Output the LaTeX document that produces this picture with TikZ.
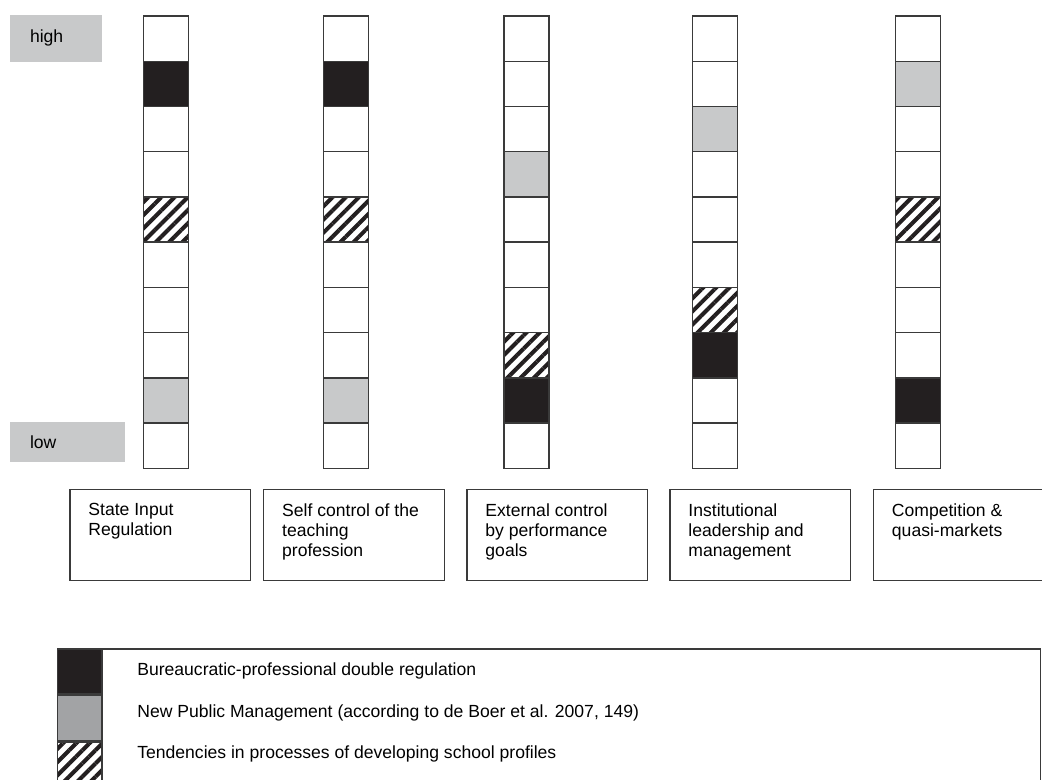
\documentclass[tikz,border=0pt]{standalone}
\usepackage{fontspec}
\setmainfont{Liberation Sans}
\usetikzlibrary{patterns.meta, positioning}
\definecolor{cellblack}{HTML}{231F20}
\definecolor{cellgray}{HTML}{C8C9CA}
\definecolor{keygray}{HTML}{A2A3A5}
\definecolor{edgegray}{HTML}{3A3A3A}
\begin{document}
\begin{tikzpicture}[x=0.02cm, y=-0.02cm, font=\fontsize{10}{11.4}\selectfont,
  cell/.style={rectangle, draw=edgegray, line width=0.8pt, minimum width=0.9cm, minimum height=0.904cm, inner sep=0},
  blank/.style={fill=white},
  dbl/.style={fill=cellblack},
  npm/.style={fill=cellgray},
  hatch/.style={pattern={Lines[angle=45, distance=5.3pt, line width=2.3pt]}, pattern color=cellblack},
  keygray/.style={fill=keygray},
  level/.style={rectangle, fill=cellgray, inner xsep=0.4cm, inner ysep=0, align=left},
  model/.style={rectangle, draw=edgegray, line width=0.8pt, minimum width=3.62cm, minimum height=1.82cm},
  modeltext/.style={anchor=north west, inner sep=0, align=left}]
\useasboundingbox (0,0) rectangle (1042,780);
\clip (0,0) rectangle (1042,780);

% high / low
\node[level, minimum height=0.946cm, text width=1.04cm] (High) at (56,38.3) {high};
\node[level, minimum height=0.806cm, text width=1.5cm] (Low) at (67.5,441.9) {low};

% columns of cells
\foreach \col/\cx/\b/\g/\h in {1/165.8/2/9/5, 2/346/2/9/5, 3/526.3/9/4/8, 4/715/8/3/7, 5/918/9/2/5} {
  \foreach \r in {1,...,10} {
    \ifnum\r=\b \def\kind{dbl}\else\ifnum\r=\g \def\kind{npm}\else\ifnum\r=\h \def\kind{hatch}\else\def\kind{blank}\fi\fi\fi
    \node[cell, \kind] (c\col-\r) at (\cx, {16+45.23*(\r-0.5)}) {};
  }
}

% models
\node[model] (StateInput) at (160.3,535) {};
\node[model] (SelfControl) at (354,535) {};
\node[model] (ExtControl) at (557.3,535) {};
\node[model] (InstLeader) at (760.3,535) {};
\node[model] (Competition) at (963.8,535) {};
\node[modeltext] (StateInputText) at ([shift={(19,14.5)}]StateInput.north west) {State Input\\Regulation};
\node[modeltext] (SelfControlText) at ([shift={(19,14.5)}]SelfControl.north west) {Self control of the\\teaching\\profession};
\node[modeltext] (ExtControlText) at ([shift={(19,14.5)}]ExtControl.north west) {External control\\by performance\\goals};
\node[modeltext] (InstLeaderText) at ([shift={(19,14.5)}]InstLeader.north west) {Institutional\\leadership and\\management};
\node[modeltext] (CompetitionText) at ([shift={(19,14.5)}]Competition.north west) {Competition \&\\quasi-markets};

% legend
\node[rectangle, draw=edgegray, line width=0.8pt, anchor=north west, minimum width=19.67cm, minimum height=3cm] (Legend) at (56.5,648.3) {};
\node[cell, dbl, anchor=north west] (KeyDbl) at (56.5,648.3) {};
\node[cell, keygray, below=0pt of KeyDbl] (KeyNpm) {};
\node[cell, hatch, below=0pt of KeyNpm] (KeyHatch) {};
\node[anchor=base west, inner sep=0] (KeyDblText) at (137,675) {Bureaucratic-professional double regulation};
\node[anchor=base west, inner sep=0] (KeyNpmText) at (137,717) {New Public Management (according to de Boer et al. 2007, 149)};
\node[anchor=base west, inner sep=0] (KeyHatchText) at (137,758) {Tendencies in processes of developing school profiles};
\end{tikzpicture}
\end{document}
